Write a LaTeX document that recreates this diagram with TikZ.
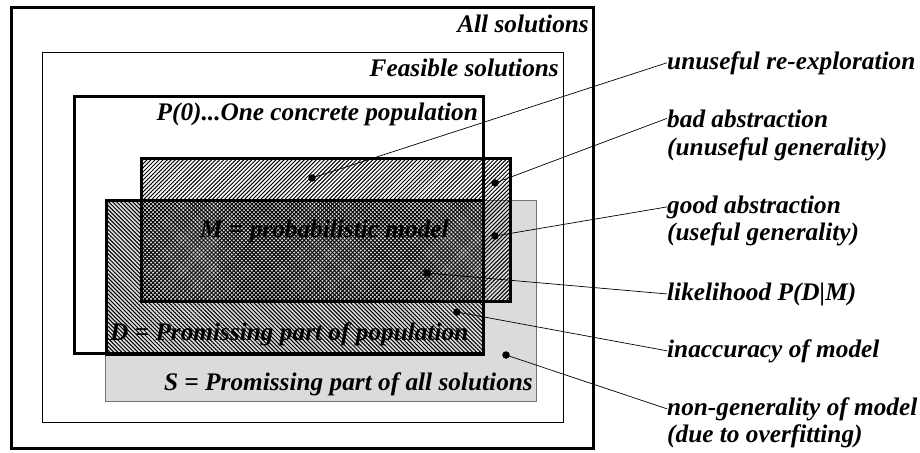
\documentclass[tikz,border=0pt]{standalone}
\usepackage{fontspec}
\setmainfont{Liberation Serif}
\usetikzlibrary{patterns.meta}
\begin{document}
\begin{tikzpicture}[x=1pt,y=-1pt,
  txt/.style={font=\fontsize{25.3}{28}\selectfont\bfseries\itshape, inner sep=0pt},
  frame/.style={draw=black, line width=3pt},
  thinframe/.style={draw=black, line width=1pt},
  hatchNE/.style={pattern={Lines[angle=45, distance=2.85pt, line width=1pt]}},
  hatchNW/.style={pattern={Lines[angle=-45, distance=2.85pt, line width=1pt]}},
  dot/.style={circle, fill=black, inner sep=0pt, minimum size=7.5pt},
  conn/.style={draw=black, line width=0.7pt}]
\useasboundingbox (0,0) rectangle (920,452);
% nested solution sets
\draw[frame] (11,8) rectangle (593,448);
\draw[thinframe] (42,53) rectangle (563,422);
\filldraw[fill=black!14, draw=black!55, line width=1pt] (105,200) rectangle (536,401);
\draw[frame, hatchNW] (106,200) rectangle (483,354);
\draw[frame, hatchNE] (141,158) rectangle (510,301);
\draw[frame] (74,96) rectangle (483,353);
% set names
\node[txt, anchor=base east] (tall) at (589,33) {All solutions};
\node[txt, anchor=base east] (tfeas) at (559,77) {Feasible solutions};
\node[txt, anchor=base east] (tpop) at (478,120) {P(0)...One concrete population};
\node[txt, anchor=base west] (tm) at (200,237) {M = probabilistic model};
\node[txt, anchor=base west] (td) at (110,340) {D = Promissing part of population};
\node[txt, anchor=base east] (ts) at (533,390) {S = Promissing part of all solutions};
% marked regions
\node[dot] (d1) at (312,178) {};
\node[dot] (d2) at (495,183) {};
\node[dot] (d3) at (495,236) {};
\node[dot] (d4) at (427,273) {};
\node[dot] (d5) at (457,312) {};
\node[dot] (d6) at (506,355) {};
% explanations
\node[txt, anchor=base west] (l1) at (667,69) {unuseful re-exploration};
\node[txt, anchor=base west] (l2) at (667,127) {bad abstraction};
\node[txt, anchor=base west] (l2b) at (667,155) {(unuseful generality)};
\node[txt, anchor=base west] (l3) at (667,213) {good abstraction};
\node[txt, anchor=base west] (l3b) at (667,240) {(useful generality)};
\node[txt, anchor=base west] (l4) at (667,300) {likelihood P(D|M)};
\node[txt, anchor=base west] (l5) at (667,357) {inaccuracy of model};
\node[txt, anchor=base west] (l6) at (667,415) {non-generality of model};
\node[txt, anchor=base west] (l6b) at (667,442) {(due to overfitting)};
% connectors
\draw[conn] (d1.center) -- (l1.west);
\draw[conn] (d2.center) -- (l2.west);
\draw[conn] (d3.center) -- (l3.west);
\draw[conn] (d4.center) -- (l4.west);
\draw[conn] (d5.center) -- (l5.west);
\draw[conn] (d6.center) -- (l6.west);
\end{tikzpicture}
\end{document}
